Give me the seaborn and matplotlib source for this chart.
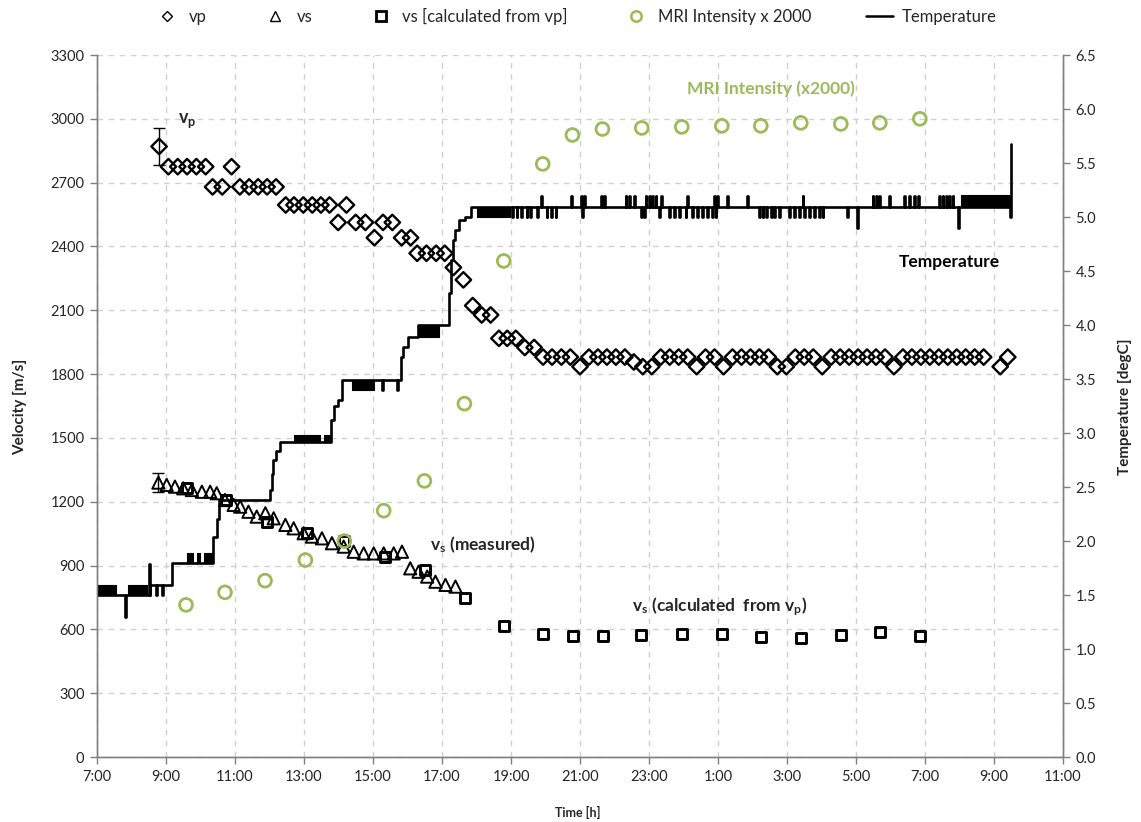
import matplotlib
matplotlib.use("Agg")
import matplotlib.pyplot as plt
from matplotlib.lines import Line2D
import seaborn as sns

# ---------------- data ----------------
vp_time = [8.80, 9.07, 9.34, 9.61, 9.88, 10.15, 10.35, 10.63, 10.90, 11.14, 11.41, 11.67, 11.93, 12.19,
           12.47, 12.71, 12.98, 13.24, 13.49, 13.74, 13.99, 14.23, 14.50, 14.78, 15.04, 15.29, 15.56,
           15.83, 16.09, 16.28, 16.55, 16.83, 17.08, 17.33, 17.62, 17.89, 18.15, 18.41, 18.65, 18.89,
           19.14, 19.40, 19.67, 19.93, 20.19, 20.46, 20.72, 21.00, 21.26, 21.52, 21.78, 22.04, 22.30,
           22.56, 22.82, 23.08, 23.34, 23.60, 23.86, 24.12, 24.38, 24.64, 24.90, 25.16, 25.42, 25.68,
           25.94, 26.20, 26.46, 26.72, 26.98, 27.24, 27.50, 27.76, 28.02, 28.28, 28.54, 28.80, 29.06,
           29.32, 29.58, 29.84, 30.10, 30.36, 30.62, 30.88, 31.14, 31.40, 31.66, 31.92, 32.18, 32.44,
           32.70, 33.18, 33.40]
vp_value = [2870, 2775, 2775, 2775, 2775, 2775, 2680, 2680, 2775, 2680, 2680, 2680, 2680, 2680,
            2595, 2595, 2595, 2595, 2595, 2595, 2513, 2595, 2513, 2513, 2441, 2513, 2513,
            2441, 2441, 2368, 2368, 2368, 2368, 2301, 2243, 2122, 2078, 2078, 1968, 1968,
            1968, 1925, 1925, 1880, 1880, 1880, 1880, 1835, 1880, 1880, 1880, 1880, 1880,
            1857, 1835, 1835, 1880, 1880, 1880, 1880, 1835, 1880, 1880, 1835, 1880, 1880,
            1880, 1880, 1880, 1835, 1835, 1880, 1880, 1880, 1835, 1880, 1880, 1880, 1880,
            1880, 1880, 1880, 1835, 1880, 1880, 1880, 1880, 1880, 1880, 1880, 1880, 1880,
            1880, 1835, 1880]
vp_err = 85

vs_time = [8.78, 9.02, 9.26, 9.50, 9.75, 10.04, 10.28, 10.47, 10.71, 10.96, 11.15, 11.39, 11.63,
           11.88, 12.12, 12.46, 12.70, 12.99, 13.23, 13.52, 13.81, 14.15, 14.44, 14.73, 15.02,
           15.31, 15.60, 15.84, 16.08, 16.32, 16.57, 16.81, 17.10, 17.39]
vs_value = [1290, 1279, 1271, 1263, 1255, 1247, 1247, 1240, 1208, 1185, 1177, 1153, 1130,
            1146, 1122, 1091, 1075, 1052, 1036, 1028, 1005, 989, 965, 957, 957,
            957, 957, 965, 887, 871, 848, 824, 809, 801]
vs_err = 45

vsc_time = [9.60, 10.74, 11.92, 13.08, 14.15, 15.36, 16.52, 17.68, 18.79, 19.92, 20.80, 21.66,
            22.78, 23.97, 25.13, 26.26, 27.40, 28.56, 29.70, 30.85]
vsc_value = [1265, 1207, 1103, 1052, 1015, 942, 879, 746, 616, 577, 570, 570,
             574, 577, 577, 566, 561, 574, 586, 570]

mri_time = [9.58, 10.71, 11.87, 13.04, 14.17, 15.31, 16.49, 17.65, 18.79, 19.92, 20.78, 21.65,
            22.79, 23.95, 25.11, 26.24, 27.40, 28.56, 29.69, 30.85]
mri_value = [715, 774, 829, 926, 1015, 1158, 1298, 1661, 2332, 2788, 2924, 2952,
             2957, 2962, 2967, 2967, 2981, 2976, 2981, 3000]

# temperature: step levels (time h, degC)
temp_step_t = [7.00, 8.55, 9.06, 9.17, 10.36, 10.47, 10.55, 12.00, 12.06, 12.10, 12.20, 12.30,
               13.78, 13.88, 13.98, 14.10, 15.80, 15.88, 16.00, 16.30, 17.20, 17.26, 17.32,
               17.38, 17.50, 17.68, 17.85, 33.45, 33.48, 33.50]
temp_step_v = [1.50, 1.59, 1.59, 1.80, 2.04, 2.20, 2.38, 2.47, 2.62, 2.75, 2.83, 2.92,
               3.12, 3.25, 3.31, 3.49, 3.70, 3.80, 3.89, 4.00, 4.30, 4.60, 4.79,
               4.88, 4.97, 5.00, 5.09, 5.00, 5.68, 5.68]
# single-reading excursions
temp_spike_t = [7.81, 8.52, 8.72, 8.88, 15.26, 15.70,
                19.03, 19.16, 19.30, 19.45, 19.55, 19.76, 20.03, 20.15, 20.29, 21.07, 22.76, 22.85,
                23.29, 23.58, 23.72, 23.87, 24.06, 24.26, 24.40, 24.55, 24.69, 24.84, 24.93, 26.19,
                26.29, 26.39, 26.53, 26.63, 26.77, 27.06, 27.21, 27.35, 27.50, 27.64, 27.79, 27.93,
                28.03, 28.75, 29.02, 31.95,
                19.86, 20.73, 21.02, 21.11, 21.60, 21.69, 22.32, 22.42, 22.56, 22.90, 23.00, 23.10,
                23.19, 23.34, 24.11, 24.88, 24.98, 25.27, 25.85, 27.45, 29.48, 29.58, 29.67, 29.96,
                30.40, 30.54, 30.69, 30.79, 31.41, 31.51, 31.60, 31.70, 31.80]
temp_spike_v = [1.30, 1.79, 1.50, 1.50, 3.40, 3.40,
                5.00, 5.00, 5.00, 5.00, 5.00, 5.00, 5.00, 5.00, 5.00, 5.00, 5.00, 5.00,
                5.00, 5.00, 5.00, 5.00, 5.00, 5.00, 5.00, 5.00, 5.00, 5.00, 5.00, 5.00,
                5.00, 5.00, 5.00, 5.00, 5.00, 5.00, 5.00, 5.00, 5.00, 5.00, 5.00, 5.00,
                5.00, 5.00, 4.90, 4.90,
                5.19, 5.19, 5.19, 5.19, 5.19, 5.19, 5.19, 5.19, 5.19, 5.19, 5.19, 5.19,
                5.19, 5.19, 5.19, 5.19, 5.19, 5.19, 5.19, 5.19, 5.19, 5.19, 5.19, 5.19,
                5.19, 5.19, 5.19, 5.19, 5.19, 5.19, 5.19, 5.19, 5.19]
# periods of rapid flicker between two readings
temp_band_start = [7.00, 7.90, 9.60, 9.89, 10.09, 12.70, 13.57, 14.39, 16.32, 18.02, 32.04]
temp_band_end = [7.55, 8.45, 9.79, 9.99, 10.33, 13.47, 13.76, 15.02, 16.90, 18.98, 33.45]
temp_band_low = [1.50, 1.50, 1.80, 1.80, 1.80, 2.92, 2.92, 3.40, 3.89, 5.00, 5.09]
temp_band_high = [1.59, 1.59, 1.89, 1.89, 1.89, 2.98, 2.98, 3.49, 4.00, 5.09, 5.20]

time_ticks = [7, 9, 11, 13, 15, 17, 19, 21, 23, 25, 27, 29, 31, 33, 35]
time_tick_labels = ['7:00', '9:00', '11:00', '13:00', '15:00', '17:00', '19:00', '21:00',
                    '23:00', '1:00', '3:00', '5:00', '7:00', '9:00', '11:00']
vel_ticks = [0, 300, 600, 900, 1200, 1500, 1800, 2100, 2400, 2700, 3000, 3300]
temp_ticks = [0.0, 0.5, 1.0, 1.5, 2.0, 2.5, 3.0, 3.5, 4.0, 4.5, 5.0, 5.5, 6.0, 6.5]

# ---------------- style ----------------
sns.set_theme(style="ticks")
FONT = ['Lato', 'DejaVu Sans']
plt.rcParams['font.family'] = FONT
plt.rcParams['mathtext.fontset'] = 'custom'
plt.rcParams['mathtext.rm'] = 'Lato'
plt.rcParams['mathtext.bf'] = 'Lato:bold'
plt.rcParams['mathtext.it'] = 'Lato:italic'

GREEN = '#9BBB59'
TXT = '#262626'

W, H = 1141, 822
fig = plt.figure(figsize=(W / 100, H / 100), dpi=100)
L, R, T, B = 97, 1063, 55, 757
ax = fig.add_axes([L / W, 1 - B / H, (R - L) / W, (B - T) / H])
ax2 = ax.twinx()

def hollow(color, lw):
    pc = ax.collections[-1]
    pc.set_facecolor('none')
    pc.set_edgecolor(color)
    pc.set_linewidth(lw)

# velocity series
sns.scatterplot(x=vp_time, y=vp_value, marker='D', s=62, ax=ax, zorder=4)
hollow('black', 1.7)
sns.scatterplot(x=vs_time, y=vs_value, marker='^', s=78, ax=ax, zorder=4)
hollow('black', 1.4)
sns.scatterplot(x=vsc_time, y=vsc_value, marker='s', s=52, ax=ax, zorder=4)
hollow('black', 2.1)
sns.scatterplot(x=mri_time, y=mri_value, marker='o', s=85, ax=ax, zorder=4)
hollow(GREEN, 2.0)

ax.errorbar([vp_time[0]], [vp_value[0]], yerr=vp_err, fmt='none', ecolor='black',
            elinewidth=1.0, capsize=4, capthick=1.0, zorder=3)
ax.errorbar([vs_time[0]], [vs_value[0]], yerr=vs_err, fmt='none', ecolor='black',
            elinewidth=1.0, capsize=4, capthick=1.0, zorder=3)

# temperature
def base_level(t):
    lev = temp_step_v[0]
    for st, sv in zip(temp_step_t, temp_step_v):
        if st <= t:
            lev = sv
    return lev

events = list(zip(temp_step_t, temp_step_v))
for t, v in zip(temp_spike_t, temp_spike_v):
    events.append((t, v))
    events.append((t + 0.025, base_level(t)))
events.sort(key=lambda e: e[0])
tt = [e[0] for e in events]
tv = [e[1] for e in events]
sns.lineplot(x=tt, y=tv, ax=ax2, color='black', lw=1.9, drawstyle='steps-post',
             estimator=None, sort=False)
for s, e, lo, hi in zip(temp_band_start, temp_band_end, temp_band_low, temp_band_high):
    ax2.fill_between([s, e], [lo, lo], [hi, hi], color='black', lw=0.8)

# axes
ax.set_xlim(7, 35)
ax.set_ylim(0, 3300)
ax2.set_ylim(0, 6.5)
ax.set_xticks(time_ticks)
ax.set_xticklabels(time_tick_labels)
ax.set_yticks(vel_ticks)
ax.set_yticklabels([str(v) for v in vel_ticks])
ax2.set_yticks(temp_ticks)
ax2.set_yticklabels([f"{v:.1f}" for v in temp_ticks])
ax.set_xlabel('')
ax.set_ylabel('')
ax2.set_ylabel('')

ax.grid(True, color='#d0d0d0', lw=1.0, ls=(0, (4, 4)))
ax2.grid(False)
for a in (ax, ax2):
    a.spines['top'].set_visible(False)
    for sp in ('left', 'right', 'bottom'):
        a.spines[sp].set_color('#808080')
        a.spines[sp].set_linewidth(1.0)
    a.tick_params(axis='both', length=5, width=1, color='#808080', labelsize=10.5,
                  labelcolor=TXT, pad=4)
ax.set_axisbelow(True)

# annotations
ax.text(9.35, 2990, r'$\mathbf{v_p}$', fontsize=13, color=TXT, ha='left', va='center')
ax.text(26.53, 3140, 'MRI Intensity (x2000)', fontsize=12.5, fontweight='bold', color=GREEN,
        ha='center', va='center')
ax.text(31.70, 2327, 'Temperature', fontsize=12.5, fontweight='bold', color='black',
        ha='center', va='center')
ax.text(16.66, 997, r'$\mathbf{v_s}$ (measured)', fontsize=12.5, fontweight='bold', color=TXT,
        ha='left', va='center')
ax.text(22.52, 705, r'$\mathbf{v_s}$ (calculated  from $\mathbf{v_p}$)', fontsize=12.5,
        fontweight='bold', color=TXT, ha='left', va='center')

fig.text(20 / W, 1 - 407 / H, 'Velocity [m/s]', rotation=90, ha='center', va='center',
         fontsize=11, fontweight='bold', color=TXT)
fig.text(1125 / W, 1 - 407 / H, 'Temperature [degC]', rotation=90, ha='center', va='center',
         fontsize=11, fontweight='bold', color=TXT)
fig.text(578 / W, 1 - 812 / H, 'Time [h]', ha='center', va='center',
         fontsize=9, fontweight='bold', color=TXT)

# legend
handles = [
    Line2D([], [], ls='none', marker='D', ms=5.5, mfc='none', mec='black', mew=1.0),
    Line2D([], [], ls='none', marker='^', ms=7.5, mfc='none', mec='black', mew=1.0),
    Line2D([], [], ls='none', marker='s', ms=6.5, mfc='none', mec='black', mew=2.0),
    Line2D([], [], ls='none', marker='o', ms=7.5, mfc='none', mec=GREEN, mew=1.8),
    Line2D([], [], color='black', lw=1.8),
]
labels = ['vp', 'vs', 'vs [calculated from vp]', 'MRI Intensity x 2000', 'Temperature']
fig.legend(handles, labels, loc='center', bbox_to_anchor=(575 / W, 1 - 16 / H), ncol=5,
           frameon=False, fontsize=12, columnspacing=3.3, handletextpad=0.5, handlelength=1.6,
           labelcolor=TXT)

fig.savefig('out.png', dpi=100)
